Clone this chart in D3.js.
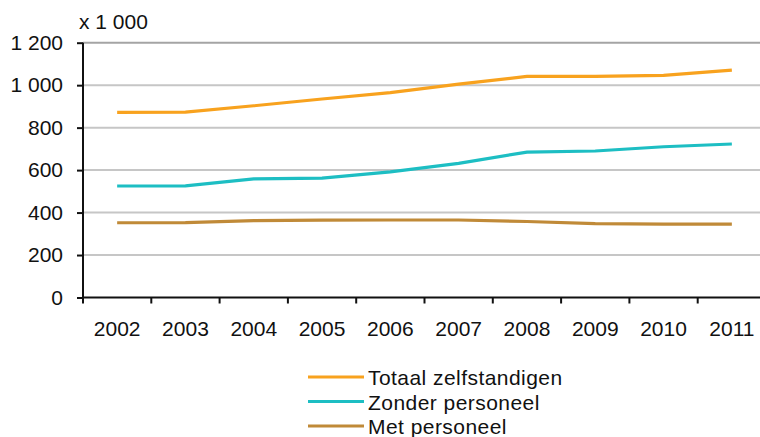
<!DOCTYPE html>
<html>
<head>
<meta charset="utf-8">
<script src="https://cdn.jsdelivr.net/npm/d3@7/dist/d3.min.js"></script>
<style>
	body { margin: 0; background: #fff; }
	text { font-family: "Liberation Sans", Arial, sans-serif; fill: #111; }
</style>
</head>
<body>
<div id="chart"></div>
<script>
// years and values (x 1 000)
let years = [2002, 2003, 2004, 2005, 2006, 2007, 2008, 2009, 2010, 2011];
let totaal = [872, 873, 903, 935, 965, 1005, 1041, 1041, 1046, 1071];
let zonder = [525, 526, 559, 562, 592, 632, 685, 690, 710, 723];
let met = [352, 353, 362, 364, 365, 365, 358, 348, 346, 346];
let yTicks = [0, 200, 400, 600, 800, 1000, 1200];
let seriesNames = ['Totaal zelfstandigen', 'Zonder personeel', 'Met personeel'];
let seriesColors = ['#F8A21E', '#1DBEC3', '#C08A38'];

let svgWidth = 760;
let svgHeight = 437;
let padding = {
	'left': 83,
	'right': -6,
	'top': 42.7,
	'bottom': 139.5
};

let svg = d3.select('#chart').append('svg')
	.attr('width', svgWidth)
	.attr('height', svgHeight);

let x = d3.scaleBand()
	.domain(years)
	.range([padding.left, svgWidth - padding.right]);

let y = d3.scaleLinear()
	.domain([0, 1200])
	.range([svgHeight - padding.bottom, padding.top]);

let fmt = d3.formatLocale({ decimal: ',', thousands: ' ', grouping: [3], currency: ['', ''] }).format(',d');

// grid lines
svg.append('g')
	.selectAll('line')
	.data(yTicks.filter(d => d > 0))
	.enter()
	.append('line')
	.attr('x1', padding.left)
	.attr('x2', svgWidth - padding.right)
	.attr('y1', d => y(d))
	.attr('y2', d => y(d))
	.attr('stroke', d => d == 1200 ? '#a4a4a4' : '#c6c6c6')
	.attr('stroke-width', 2);

// y axis
let axis_y = d3.axisLeft(y)
	.tickValues(yTicks)
	.tickSize(6)
	.tickPadding(14)
	.tickFormat(fmt);

let gy = svg.append('g')
	.attr('transform', `translate(${padding.left}, 0)`)
	.call(axis_y);
gy.select('.domain').remove();
gy.selectAll('line').attr('stroke', '#111').attr('stroke-width', 2);
gy.selectAll('text')
	.attr('font-size', '21px')
	.attr('font-family', '"Liberation Sans", Arial, sans-serif')
	.attr('fill', '#111');

gy.append('line')
	.attr('x1', 0).attr('x2', 0)
	.attr('y1', y(1200)).attr('y2', y(0) + 6)
	.attr('stroke', '#111')
	.attr('stroke-width', 2);

svg.append('text')
	.attr('x', 79)
	.attr('y', 29)
	.attr('font-size', '21px')
	.text('x 1 000');

// x axis
let axis_x = d3.axisBottom(x)
	.tickSize(0)
	.tickPadding(24)
	.tickFormat(d => d);

let gx = svg.append('g')
	.attr('transform', `translate(0, ${y(0)})`)
	.call(axis_x);
gx.select('.domain').remove();
gx.selectAll('text')
	.attr('font-size', '21px')
	.attr('font-family', '"Liberation Sans", Arial, sans-serif')
	.attr('fill', '#111');

gx.append('line')
	.attr('x1', padding.left)
	.attr('x2', svgWidth - padding.right)
	.attr('stroke', '#111')
	.attr('stroke-width', 2);

gx.selectAll('line.tickmark')
	.data(years.slice(1))
	.enter()
	.append('line')
	.classed('tickmark', true)
	.attr('x1', d => x(d))
	.attr('x2', d => x(d))
	.attr('y1', 0)
	.attr('y2', 6)
	.attr('stroke', '#111')
	.attr('stroke-width', 2);

// lines
let line = d3.line()
	.x((d, i) => x(years[i]) + x.bandwidth() / 2)
	.y(d => y(d));

let seriesData = [totaal, zonder, met];

svg.append('g')
	.selectAll('path')
	.data(seriesData)
	.enter()
	.append('path')
	.attr('d', d => line(d))
	.attr('fill', 'none')
	.attr('stroke', (d, i) => seriesColors[i])
	.attr('stroke-width', 3.2);

// legend
let legend = svg.selectAll('.legend')
	.data(seriesNames)
	.enter()
	.append('g')
	.attr('class', 'legend')
	.attr('transform', (d, i) => `translate(308, ${377 + i * 24.5})`);

legend.append('line')
	.attr('x1', 0)
	.attr('x2', 56)
	.attr('stroke', (d, i) => seriesColors[i])
	.attr('stroke-width', 3.2);

legend.append('text')
	.attr('x', 60)
	.attr('y', 8)
	.attr('font-size', '21px')
	.attr('letter-spacing', '0.45px')
	.text(d => d);
</script>
</body>
</html>
